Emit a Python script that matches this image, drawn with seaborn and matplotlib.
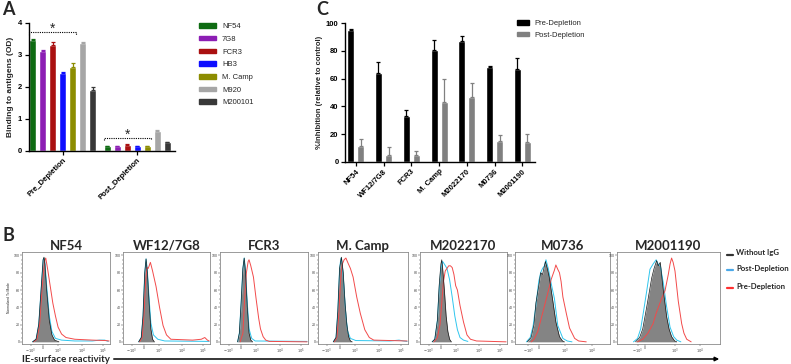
import numpy as np
import pandas as pd
import matplotlib
matplotlib.use("Agg")
import matplotlib.pyplot as plt
import seaborn as sns
from matplotlib.patches import Patch
from matplotlib.lines import Line2D

# ---- panel A: antibody binding to antigens (OD)
a_groups = ["Pre_Depletion", "Post_Depletion"]
a_strains = ["NF54", "7G8", "FCR3", "HB3", "M. Camp", "M920", "M200101"]
a_colors = ["#0e6b12", "#8c1eb4", "#aa1010", "#0d0dff", "#8c8c00", "#a6a6a6", "#383838"]
a_pre = [3.45, 3.10, 3.30, 2.42, 2.63, 3.35, 1.90]
a_pre_err = [0.04, 0.06, 0.10, 0.05, 0.10, 0.04, 0.10]
a_post = [0.14, 0.14, 0.17, 0.14, 0.14, 0.62, 0.26]
a_post_err = [0.02, 0.02, 0.03, 0.02, 0.02, 0.04, 0.02]

# ---- panel C: % inhibition
c_isolates = ["NF54", "WF12/7G8", "FCR3", "M. Camp", "M2022170", "M0736", "M2001190"]
c_series = ["Pre-Depletion", "Post-Depletion"]
c_pre = [95, 64, 33, 81, 87, 68.5, 67]
c_pre_err = [1, 8, 4, 7, 4, 1, 8]
c_post = [11.5, 5, 5, 43, 47, 15, 14]
c_post_err = [5, 5.5, 3, 17, 10, 4.5, 6]

# ---- panel B: flow histograms (x = % of display axis, y = % of mode)
nf54_none = [(12,0),(16,3),(19,20),(22,65),(24,95),(25,98),(26,90),(28,60),(31,25),(34,8),(37,2),(42,0)]
nf54_post = [(12,0),(16,3),(19,20),(22,65),(24,95),(25,97),(26,92),(28,65),(31,30),(34,12),(38,4),(45,2),(60,1),(80,1),(88,2),(94,2),(98,0.5)]
nf54_pre = [(13,0),(17,3),(20,20),(23,65),(26,95),(27,97),(29,85),(32,65),(35,45),(38,30),(41,17),(45,9),(50,5),(60,3),(80,2),(95,1.5),(99,1)]

wf12_none = [(18,0),(21,5),(23,30),(25,80),(26.5,96),(28,80),(30,45),(32,15),(34,3),(36,0)]
wf12_post = [(18,0),(21,5),(23,30),(25,80),(26.5,96),(28,82),(30,50),(32,22),(35,8),(40,3),(48,1),(99,0.5)]
wf12_pre = [(19,0),(22,5),(24,30),(26,70),(27.5,86),(29,85),(31.5,92),(34,82),(38,64),(42,40),(46,19),(50,8),(55,3),(80,2),(90,3),(94,5),(97,2),(99,1)]

fcr3_none = [(20,0),(22,10),(24,45),(26,85),(27.5,97),(29,80),(31,40),(33,10),(35,2),(37,0)]
fcr3_post = [(20,0),(22,10),(24,45),(26,85),(27.5,97),(29,82),(31,45),(33,15),(36,4),(40,1),(99,0.5)]
fcr3_pre = [(23,0),(26,10),(28,50),(30,80),(32,93),(33,95),(35,88),(38,75),(41,50),(44,27),(46,15),(49,6),(52,2),(56,0.5),(99,0)]

mcamp_none = [(17,0),(20,5),(22,35),(24,85),(26,98),(28,80),(30,45),(32,20),(34,6),(36,1),(38,0)]
mcamp_post = [(17,0),(20,5),(22,35),(24,85),(25.5,97),(27,90),(29,60),(31,30),(33,12),(36,4),(42,1.5),(80,1),(90,2),(95,1),(99,0.5)]
mcamp_pre = [(18,0),(21,5),(23,30),(25,70),(27,90),(29,95),(31,97),(33,92),(36,85),(39,75),(43,52),(47,33),(52,14),(57,5),(62,2),(99,1)]

m2022_none = [(14,0),(17,3),(20,25),(22,65),(24,90),(25,95),(26,85),(28,60),(30,30),(32,12),(34,3),(36,0)]
m2022_post = [(14,0),(17,3),(20,25),(22,60),(24,85),(26,93),(28,90),(31,85),(34,72),(37,52),(40,30),(43,14),(46,5),(50,2),(55,0.5)]
m2022_pre = [(16,0),(20,5),(23,20),(25,45),(27,70),(29,82),(31,85),(33,88),(35,88),(37,86),(39,78),(41,65),(43,60),(46,42),(50,23),(54,8),(58,3),(65,1),(99,0)]

m0736_none = [(13,0),(17,5),(20,20),(22,45),(25.5,68),(27,80),(29,78),(32,93),(34,85),(36,75),(39.7,48),(43,23),(46.8,6),(50,1),(52,0)]
m0736_post = [(12,0),(16,5),(19,18),(22,42),(25,70),(27,80),(29,85),(31,88),(32.6,95),(35,85),(38,68),(41.5,50),(45,19),(50.4,4),(55,1),(60,0)]
m0736_pre = [(17,0),(20,3),(24,12),(29,33),(34.4,56),(38,72),(41.5,83),(43,89),(45,84),(46.8,80),(48.5,70),(50.4,52),(54,33),(57.4,16),(62.8,4),(67,1),(75,0)]

m2001_none = [(18,0),(22,5),(25,15),(28.8,40),(33.7,74),(36,85),(38.5,94),(40,88),(42,92),(45,59),(48.2,29),(50.5,15),(53,6),(56,1),(58,0)]
m2001_post = [(16,0),(20,4),(23,15),(25.6,34),(29,60),(32,84),(35,90),(38,95),(40,90),(42,88),(45,68),(48,42),(51.5,17),(55,6),(58,2),(62,0)]
m2001_pre = [(20,0),(25,3),(30,10),(35,21),(38,33),(41.7,45),(44,52),(46.6,59),(49.8,78),(51.5,90),(53,97),(54.5,92),(56.3,82),(59.5,47),(62.8,21),(65,10),(67.7,3),(72,0)]

b_titles = ["NF54", "WF12/7G8", "FCR3", "M. Camp", "M2022170", "M0736", "M2001190"]
b_curves = [(nf54_none, nf54_post, nf54_pre), (wf12_none, wf12_post, wf12_pre),
            (fcr3_none, fcr3_post, fcr3_pre), (mcamp_none, mcamp_post, mcamp_pre),
            (m2022_none, m2022_post, m2022_pre), (m0736_none, m0736_post, m0736_pre),
            (m2001_none, m2001_post, m2001_pre)]
b_tick_labels = ["$-10^3$", "0", "$10^3$", "$10^4$", "$10^5$"]

# ------------------------------------------------------------------
sns.set_theme(style="ticks")
plt.rcParams["font.family"] = ["Liberation Sans", "DejaVu Sans"]

W, H = 791, 364
fig = plt.figure(figsize=(W / 100, H / 100), dpi=100, facecolor="white")


def px_axes(l, t, r, b):
    return fig.add_axes([l / W, 1 - b / H, (r - l) / W, (b - t) / H])


def prism_style(ax):
    sns.despine(ax=ax)
    for s in ["left", "bottom"]:
        ax.spines[s].set_linewidth(1.0)
        ax.spines[s].set_color("black")
    ax.tick_params(axis="both", direction="out", length=3, width=0.9, labelsize=5.5, pad=1.5, colors="black")
    for lab in ax.get_xticklabels() + ax.get_yticklabels():
        lab.set_fontweight("bold")


# ---------------- panel A
axA = px_axes(28.5, 22.7, 175, 150.7)
dfA = pd.DataFrame({"group": np.repeat(a_groups, len(a_strains)),
                    "strain": a_strains * 2,
                    "od": a_pre + a_post,
                    "err": a_pre_err + a_post_err})
sns.barplot(data=dfA, x="group", y="od", hue="strain", hue_order=a_strains, palette=a_colors,
            width=0.937, gap=0.33, errorbar=None, saturation=1, legend=False, ax=axA)
errA = {(g, s): e for g, s, e in zip(dfA.group, dfA.strain, dfA.err)}
for cont, strain, col in zip(axA.containers, a_strains, a_colors):
    for bar, g in zip(cont, a_groups):
        xc = bar.get_x() + bar.get_width() / 2
        axA.errorbar(xc, bar.get_height(), yerr=[[0], [errA[(g, strain)]]], fmt="none",
                     ecolor=col, elinewidth=0.9, capsize=1.5, capthick=0.9)
axA.set_xlim(-0.458, 1.503)
axA.set_ylim(0, 4)
axA.set_yticks([0, 1, 2, 3, 4])
axA.set_xlabel("")
axA.set_ylabel("Binding to antigens (OD)", fontsize=6, fontweight="bold", labelpad=3)
prism_style(axA)
axA.set_xticks([0, 1])
axA.set_xticklabels(a_groups, rotation=45, ha="right", rotation_mode="anchor", fontsize=5.5)

# significance brackets
for gi, yb, dy in [(0, 3.72, 0.1), (1, 0.40, 0.08)]:
    left = axA.containers[0][gi].get_x()
    right = axA.containers[4][gi].get_x() + axA.containers[4][gi].get_width()
    axA.plot([left, left, right, right], [yb - dy, yb, yb, yb - dy], ls=(0, (1, 1)),
             color="black", lw=0.8, clip_on=False)
    axA.text((left + right) / 2, yb - 0.12, "*", ha="center", va="bottom", fontsize=10, clip_on=False)

axA.legend(handles=[Patch(facecolor=c, edgecolor=c) for c in a_colors], labels=a_strains,
           loc="upper left", bbox_to_anchor=(196 / W, 1 - 20 / H), bbox_transform=fig.transFigure,
           frameon=False, fontsize=5.5, handlelength=2.2, handleheight=0.55, labelspacing=0.75,
           handletextpad=0.8, borderaxespad=0)

fig.text(2 / W, 1 - 1 / H, "A", fontsize=13, fontweight="bold", va="top", family=["Lato", "DejaVu Sans"])

# ---------------- panel C
axC = px_axes(345, 23.3, 535, 161.7)
dfC = pd.DataFrame({"isolate": c_isolates * 2,
                    "series": np.repeat(c_series, len(c_isolates)),
                    "inh": c_pre + c_post,
                    "err": c_pre_err + c_post_err})
c_colors = ["#000000", "#808080"]
sns.barplot(data=dfC, x="isolate", y="inh", hue="series", hue_order=c_series, palette=c_colors,
            width=0.72, gap=0.3, errorbar=None, saturation=1, legend=False, ax=axC)
errC = {(i, s): e for i, s, e in zip(dfC.isolate, dfC.series, dfC.err)}
for cont, ser, col in zip(axC.containers, c_series, c_colors):
    for bar, iso in zip(cont, c_isolates):
        xc = bar.get_x() + bar.get_width() / 2
        axC.errorbar(xc, bar.get_height(), yerr=[[0], [errC[(iso, ser)]]], fmt="none",
                     ecolor=col, elinewidth=0.9, capsize=1.5, capthick=0.9)
axC.set_xlim(-0.385, 6.45)
axC.set_ylim(0, 100)
axC.set_yticks(range(0, 101, 20))
axC.set_xlabel("")
axC.set_ylabel("%Inhibition (relative to control)", fontsize=5.5, fontweight="bold", labelpad=2)
prism_style(axC)
axC.set_xticks(range(len(c_isolates)))
axC.set_xticklabels(c_isolates, rotation=45, ha="right", rotation_mode="anchor", fontsize=5.5)
axC.legend(handles=[Patch(facecolor=c, edgecolor=c) for c in c_colors], labels=c_series,
           loc="upper left", bbox_to_anchor=(514 / W, 1 - 17 / H), bbox_transform=fig.transFigure,
           frameon=False, fontsize=5.5, handlelength=1.5, handleheight=0.5, labelspacing=0.6,
           handletextpad=0.8, borderaxespad=0)
fig.text(316 / W, 1 - 1 / H, "C", fontsize=13, fontweight="bold", va="top", family=["Lato", "DejaVu Sans"])

# ---------------- panel B
b_lefts = [22, 123, 220, 318, 420, 515, 617]
b_rights = [110, 210, 308, 408, 507, 610, 720]
b_ticks = [[10, 24, 41, 68, 92]] * 5 + [[14, 25, 53, 81], [20, 27, 56, 81]]
cyan, red = "#2fc6ee", "#f24a4a"
for k, (title, (none, post, pre)) in enumerate(zip(b_titles, b_curves)):
    ax = px_axes(b_lefts[k], 252, b_rights[k], 344)
    for data, col in [(post, cyan), (pre, red)]:
        d = pd.DataFrame(data, columns=["x", "y"])
        sns.lineplot(data=d, x="x", y="y", color=col, lw=0.7, ax=ax, sort=False)
    d = pd.DataFrame(none, columns=["x", "y"])
    ax.fill_between(d.x, d.y, color="#6e6e6e", alpha=0.85, lw=0)
    ax.plot(d.x, d.y, color="#1a1a1a", lw=0.5)
    ax.set_xlim(0, 100)
    ax.set_ylim(-2.5, 104)
    ax.set_xlabel("")
    ax.set_ylabel("")
    ax.set_yticks(range(0, 101, 20))
    ax.set_yticks(range(0, 101, 5), minor=True)
    ax.set_xticks(b_ticks[k])
    ax.set_xticklabels(b_tick_labels[:len(b_ticks[k])])
    ax.tick_params(which="both", direction="out", labelsize=2.6, length=1.3, width=0.35, pad=0.4, colors="#444444")
    ax.tick_params(which="minor", length=0.8)
    for s in ax.spines.values():
        s.set_linewidth(0.6)
        s.set_color("#8a8a8a")
    ax.set_title(title, fontsize=9.5, fontweight="bold", pad=1.5, family=["Lato", "DejaVu Sans"])
    if k == 0:
        ax.set_ylabel("Normalized To Mode", fontsize=2.4, labelpad=2)

fig.text(2 / W, 1 - 227 / H, "B", fontsize=13, fontweight="bold", va="top", family=["Lato", "DejaVu Sans"])
fig.text(22 / W, 1 - 359.5 / H, "IE-surface reactivity", fontsize=7, fontweight="bold", va="center",
         family=["Lato", "DejaVu Sans"])
fig.add_artist(matplotlib.patches.FancyArrowPatch((111 / W, 1 - 359 / H), (722 / W, 1 - 359 / H),
                                                  transform=fig.transFigure, arrowstyle="-|>",
                                                  mutation_scale=6, lw=1.1, color="black"))

# legend for panel B
for yy, col, lab in [(253, "#333333", "Without IgG"), (268, "#4aa8e8", "Post-Depletion"),
                     (286, "#ff3030", "Pre-Depletion")]:
    fig.add_artist(Line2D([727 / W, 733 / W], [1 - (yy + 2) / H] * 2, color=col, lw=1.6))
    fig.text(736 / W, 1 - yy / H, lab, fontsize=5.6, fontweight="bold", va="center",
             family=["Lato", "DejaVu Sans"])

fig.savefig("out.png", dpi=100, facecolor="white")
